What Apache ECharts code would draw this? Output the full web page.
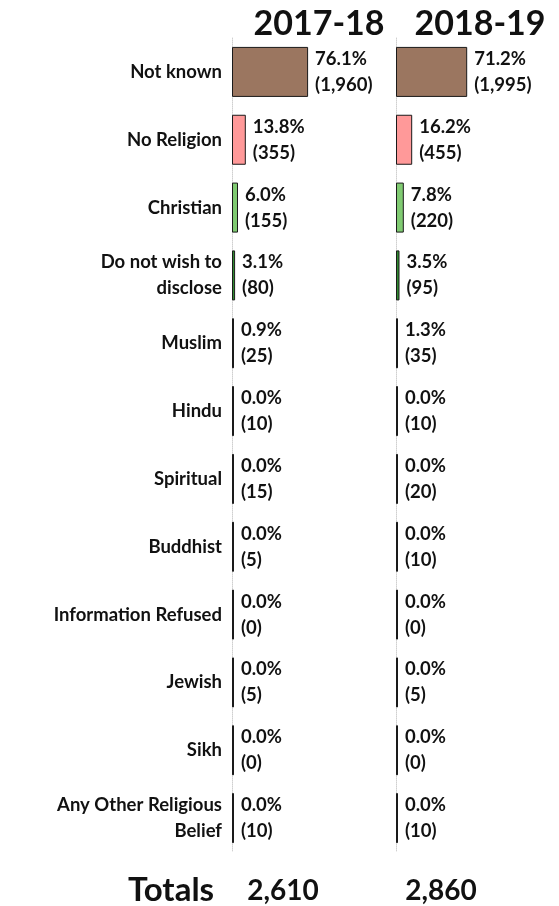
<!DOCTYPE html>
<html>
<head>
<meta charset="utf-8">
<script src="https://cdn.jsdelivr.net/npm/echarts@6/dist/echarts.min.js"></script>
<style>
  html, body { margin: 0; padding: 0; background: #fff; }
  #chart { width: 559px; height: 906px; }
</style>
</head>
<body>
<div id="chart"></div>
<script>
// categories, top to bottom
const categories = ['Not known', 'No Religion', 'Christian', 'Do not wish to\ndisclose', 'Muslim', 'Hindu',
  'Spiritual', 'Buddhist', 'Information Refused', 'Jewish', 'Sikh', 'Any Other Religious\nBelief'];
const years = ['2017-18', '2018-19'];
const pct1718 = [76.1, 13.8, 6.0, 3.1, 0.9, 0.0, 0.0, 0.0, 0.0, 0.0, 0.0, 0.0];
const count1718 = ['1,960', '355', '155', '80', '25', '10', '15', '5', '0', '5', '0', '10'];
const pct1819 = [71.2, 16.2, 7.8, 3.5, 1.3, 0.0, 0.0, 0.0, 0.0, 0.0, 0.0, 0.0];
const count1819 = ['1,995', '455', '220', '95', '35', '10', '20', '10', '0', '5', '0', '10'];
const totals = ['2,610', '2,860'];

const barColors = ['#9b7660', '#ff9999', '#80cb72', '#2f8a2f', '#000', '#000', '#000', '#000', '#000', '#000', '#000', '#000'];
const FONT = 'Lato';

const chart = echarts.init(document.getElementById('chart'));

function makeSeries(idx, pcts, counts) {
  return {
    type: 'bar',
    xAxisIndex: idx,
    yAxisIndex: idx,
    barWidth: 50,
    barMinHeight: 2,
    data: pcts.map((v, i) => ({
      value: v,
      itemStyle: { color: barColors[i], borderColor: '#1a1a1a', borderWidth: 1 }
    })),
    label: {
      show: true,
      position: 'right',
      distance: 7,
      fontFamily: FONT,
      fontWeight: 'bold',
      fontSize: 18.5,
      lineHeight: 26,
      color: '#111',
      formatter: p => p.value.toFixed(1) + '%\n(' + counts[p.dataIndex] + ')'
    },
    silent: true,
    animation: false
  };
}

const lefts = [232, 396];

chart.setOption({
  animation: false,
  grid: lefts.map(l => ({ left: l, width: 100, top: 38, height: 814 })),
  xAxis: lefts.map((l, i) => ({
    gridIndex: i, type: 'value', min: 0, max: 100, show: false
  })),
  yAxis: lefts.map((l, i) => ({
    gridIndex: i,
    type: 'category',
    inverse: true,
    data: categories,
    axisTick: { show: false },
    axisLine: { show: true, lineStyle: { color: '#d0d0d0', type: 'dotted', width: 1 } },
    axisLabel: {
      show: i === 0,
      fontFamily: FONT,
      fontWeight: 'bold',
      fontSize: 18.5,
      lineHeight: 26,
      color: '#111',
      margin: 10,
      align: 'right'
    }
  })),
  title: [
    { text: years[0], left: 314, top: 2, textAlign: 'center',
      textStyle: { fontFamily: FONT, fontWeight: 'bold', fontSize: 34, color: '#111' } },
    { text: years[1], left: 475, top: 2, textAlign: 'center',
      textStyle: { fontFamily: FONT, fontWeight: 'bold', fontSize: 34, color: '#111' } },
    { text: 'Totals', left: 166, top: 869, textAlign: 'center',
      textStyle: { fontFamily: FONT, fontWeight: 'bold', fontSize: 33, color: '#111' } },
    { text: totals[0], left: 278, top: 872, textAlign: 'center',
      textStyle: { fontFamily: FONT, fontWeight: 'bold', fontSize: 28, color: '#111' } },
    { text: totals[1], left: 436, top: 872, textAlign: 'center',
      textStyle: { fontFamily: FONT, fontWeight: 'bold', fontSize: 28, color: '#111' } }
  ],
  series: [makeSeries(0, pct1718, count1718), makeSeries(1, pct1819, count1819)]
});
</script>
</body>
</html>
